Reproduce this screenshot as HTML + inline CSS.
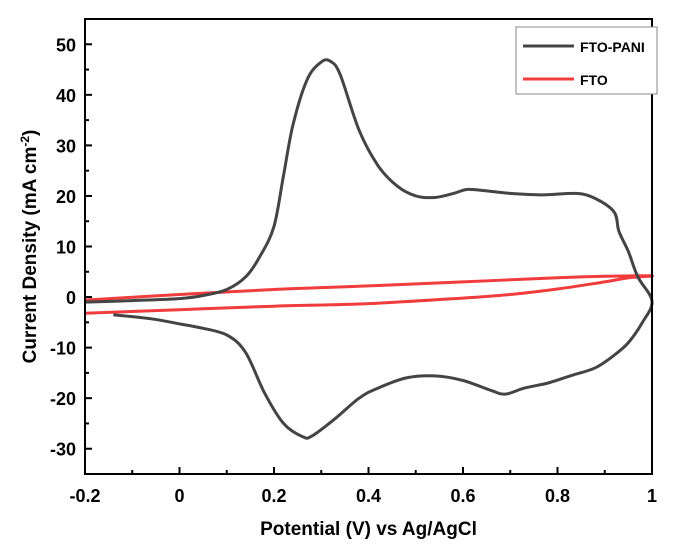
<!DOCTYPE html>
<html><head><meta charset="utf-8"><style>
body{margin:0;background:#fff;width:680px;height:555px;overflow:hidden}
text{font-family:"Liberation Sans",Arial,sans-serif;font-weight:bold;fill:#000}
</style></head><body>
<svg id="chart" width="680" height="555" xmlns="http://www.w3.org/2000/svg"></svg>
<script>
const xTicks=[-0.2,0,0.2,0.4,0.6,0.8,1];
const xTickLabels=["-0.2","0","0.2","0.4","0.6","0.8","1"];
const yTicks=[-30,-20,-10,0,10,20,30,40,50];
const yTickLabels=["-30","-20","-10","0","10","20","30","40","50"];
const panX=[-0.2,-0.1,0,0.05,0.1,0.14,0.17,0.2,0.22,0.24,0.27,0.3,0.32,0.34,0.38,0.42,0.46,0.5,0.54,0.58,0.61,0.65,0.7,0.77,0.84,0.88,0.92,0.93,0.95,0.97,1.0,0.98,0.95,0.92,0.88,0.83,0.78,0.73,0.69,0.66,0.6,0.54,0.48,0.42,0.38,0.33,0.28,0.26,0.22,0.18,0.14,0.1,0.04,0,-0.06,-0.14];
const panY=[-1,-0.7,-0.3,0.3,1.5,4,8,14,24,34,43,46.5,46.6,44,33,26,22,20,19.7,20.5,21.3,21,20.5,20.2,20.5,19.5,16.8,13,9,4,-0.8,-5,-9,-11.5,-14,-15.5,-17,-18,-19.2,-18.5,-16.5,-15.6,-16,-18,-20,-24,-27.5,-27.6,-25,-19,-11,-7.5,-6,-5.3,-4.3,-3.5];
const ftoX=[-0.2,0,0.2,0.4,0.6,0.8,0.9,1.0,0.95,0.9,0.8,0.7,0.6,0.4,0.2,0,-0.2];
const ftoY=[-0.6,0.5,1.5,2.2,3,3.8,4.1,4.2,3.8,3,1.6,0.5,-0.2,-1.3,-1.8,-2.5,-3.2];
const X0=85,X1=652,Y0=19,Y1=474;
const sx=v=>X0+(v+0.2)/1.2*(X1-X0);
const sy=v=>Y1-(v+35)/90*(Y1-Y0);
const svg=document.getElementById('chart');
const NS="http://www.w3.org/2000/svg";
function mk(tag,attrs,name){const e=document.createElementNS(NS,tag);for(const k in attrs)e.setAttribute(k,attrs[k]);


svg.appendChild(e);return e;}
function path(xs,ys){const p=xs.map((x,i)=>[sx(x),sy(ys[i])]);let d='M'+p[0][0].toFixed(1)+','+p[0][1].toFixed(1);
for(let i=0;i<p.length-1;i++){const a=p[Math.max(i-1,0)],b=p[i],c=p[i+1],e=p[Math.min(i+2,p.length-1)];
const c1=[b[0]+(c[0]-a[0])/6,b[1]+(c[1]-a[1])/6],c2=[c[0]-(e[0]-b[0])/6,c[1]-(e[1]-b[1])/6];
d+=' C'+c1.map(v=>v.toFixed(1))+' '+c2.map(v=>v.toFixed(1))+' '+c.map(v=>v.toFixed(1));}return d;}
mk('path',{d:path(ftoX,ftoY),fill:'none',stroke:'#f03c3c','stroke-width':3,'stroke-linejoin':'round'},'fto-series');
mk('path',{d:path(panX,panY),fill:'none',stroke:'#444','stroke-width':3,'stroke-linejoin':'round'},'fto-pani-series');
mk('rect',{x:X0,y:Y0,width:X1-X0,height:Y1-Y0,fill:'none',stroke:'#000','stroke-width':2},'plot-frame');
xTicks.forEach((v,i)=>{mk('line',{x1:sx(v),x2:sx(v),y1:Y1,y2:Y1-7,stroke:'#000','stroke-width':2},'x-tick');
const t=mk('text',{x:sx(v),y:Y1+28,'text-anchor':'middle','font-size':18},'x-tick-label');t.textContent=xTickLabels[i];
if(i<xTicks.length-1)mk('line',{x1:sx(v+0.1),x2:sx(v+0.1),y1:Y1,y2:Y1-4,stroke:'#000','stroke-width':2},'x-minor-tick');});
yTicks.forEach((v,i)=>{mk('line',{x1:X0,x2:X0+7,y1:sy(v),y2:sy(v),stroke:'#000','stroke-width':2},'y-tick');
const t=mk('text',{x:X0-9,y:sy(v)+7,'text-anchor':'end','font-size':18},'y-tick-label');t.textContent=yTickLabels[i];});
for(let v=-35;v<=55;v+=10)mk('line',{x1:X0,x2:X0+4,y1:sy(v),y2:sy(v),stroke:'#000','stroke-width':2},'y-minor-tick');
const xt=mk('text',{x:(X0+X1)/2,y:535,'text-anchor':'middle','font-size':19},'x-axis-title');xt.textContent='Potential (V) vs Ag/AgCl';
const yt=mk('text',{transform:'translate(36,'+((Y0+Y1)/2)+') rotate(-90)','text-anchor':'middle','font-size':19},'y-axis-title');
yt.innerHTML='Current Density (mA cm<tspan dy="-7" font-size="12">-2</tspan><tspan dy="7">)</tspan>';
mk('rect',{x:516,y:27,width:141,height:67,fill:'#fff',stroke:'#888','stroke-width':1},'legend-box');
mk('line',{x1:523,x2:574,y1:46,y2:46,stroke:'#444','stroke-width':3},'legend-swatch-fto-pani');
let l=mk('text',{x:580,y:52,'font-size':14},'legend-label-fto-pani');l.textContent='FTO-PANI';
mk('line',{x1:523,x2:574,y1:79,y2:79,stroke:'#f03c3c','stroke-width':3},'legend-swatch-fto');
l=mk('text',{x:580,y:85,'font-size':14},'legend-label-fto');l.textContent='FTO';
</script>
</body></html>
